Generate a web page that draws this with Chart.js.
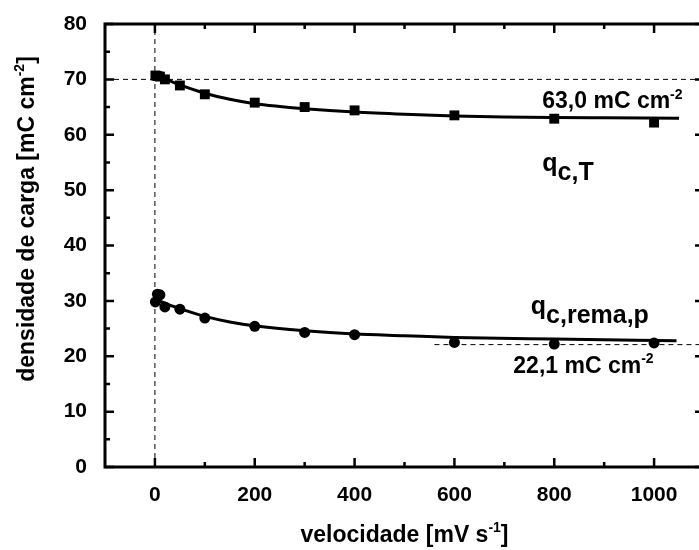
<!DOCTYPE html>
<html>
<head>
<meta charset="utf-8">
<script src="https://cdn.jsdelivr.net/npm/chart.js@4.4.0/dist/chart.umd.min.js"></script>
<style>
html, body { margin: 0; padding: 0; background: #fff; overflow: hidden; width: 699px; height: 550px; }
#wrap { position: relative; width: 712px; height: 550px; }
</style>
</head>
<body>
<div id="wrap"><canvas id="chartCarga"></canvas></div>
<script>
// dados
var velocidade = [1, 5, 10, 20, 50, 100, 200, 300, 400, 600, 800, 1000];
var qcT = [70.7, 70.6, 70.5, 70.0, 68.9, 67.3, 65.8, 65.0, 64.4, 63.5, 62.9, 62.2];
var qcRema = [29.8, 31.2, 31.1, 28.9, 28.5, 26.9, 25.4, 24.3, 23.9, 22.5, 22.2, 22.4];

// curvas de ajuste
var ajusteVelT = [0, 25, 50, 100, 150, 200, 250, 300, 400, 500, 600, 700, 800, 900, 1050];
var ajusteT = [70.6, 69.9, 69.0, 67.5, 66.4, 65.6, 65.1, 64.7, 64.1, 63.7, 63.4, 63.2, 63.1, 63.05, 63.0];
var ajusteVelRema = [0, 25, 50, 100, 150, 200, 300, 400, 500, 600, 800, 1045];
var ajusteRema = [30.4, 29.4, 28.6, 27.2, 26.2, 25.5, 24.6, 24.0, 23.7, 23.4, 23.1, 22.8];

// linhas tracejadas
var tracoVertX = [0, 0];
var tracoVertY = [0, 80];
var traco70X = [-100, 1100];
var traco70Y = [70, 70];
var traco22X = [560, 1100];
var traco22Y = [22.1, 22.1];

var xTicks = [0, 200, 400, 600, 800, 1000];
var xMinor = [100, 300, 500, 700, 900];
var yTicks = [0, 10, 20, 30, 40, 50, 60, 70, 80];
var yMinor = [5, 15, 25, 35, 45, 55, 65, 75];

var fonte = '"Liberation Sans", Arial, sans-serif';

function pares(xs, ys) {
    var out = [];
    for (let i = 0; i < xs.length; i++) {
        out.push({x: xs[i], y: ys[i]});
    }
    return out;
}

// moldura com ticks para dentro
var moldura = {
    id: 'moldura',
    afterDatasetsDraw: function (chart) {
        var ctx = chart.ctx, a = chart.chartArea;
        var xs = chart.scales.x, ys = chart.scales.y;
        ctx.save();
        ctx.strokeStyle = '#000';
        ctx.lineWidth = 2.5;
        function tickX(v, len) {
            var px = xs.getPixelForValue(v);
            ctx.beginPath();
            ctx.moveTo(px, a.bottom); ctx.lineTo(px, a.bottom - len);
            ctx.moveTo(px, a.top); ctx.lineTo(px, a.top + len);
            ctx.stroke();
        }
        function tickY(v, len) {
            var py = ys.getPixelForValue(v);
            ctx.beginPath();
            ctx.moveTo(a.left, py); ctx.lineTo(a.left + len, py);
            ctx.moveTo(a.right, py); ctx.lineTo(a.right - len, py);
            ctx.stroke();
        }
        xTicks.forEach(function (v) { tickX(v, 9); });
        xMinor.forEach(function (v) { tickX(v, 5); });
        yTicks.forEach(function (v) { tickY(v, 9); });
        yMinor.forEach(function (v) { tickY(v, 5); });
        ctx.lineWidth = 3;
        ctx.strokeRect(a.left, a.top, a.right - a.left, a.bottom - a.top);
        ctx.restore();
    }
};

function escreveSup(ctx, base, sup, x, y, size) {
    ctx.font = 'bold ' + size + 'px ' + fonte;
    ctx.fillText(base, x, y);
    var w = ctx.measureText(base).width;
    ctx.font = 'bold ' + Math.round(size * 0.62) + 'px ' + fonte;
    ctx.fillText(sup, x + w, y - size * 0.42);
    return w + ctx.measureText(sup).width;
}

var textos = {
    id: 'textos',
    afterDraw: function (chart) {
        var ctx = chart.ctx;
        var xs = chart.scales.x, ys = chart.scales.y;
        ctx.save();
        ctx.fillStyle = '#000';
        ctx.textAlign = 'left';
        ctx.textBaseline = 'alphabetic';

        // 63,0 mC cm-2
        escreveSup(ctx, '63,0 mC cm', '-2', xs.getPixelForValue(776), ys.getPixelForValue(64.8), 23);
        // 22,1 mC cm-2
        escreveSup(ctx, '22,1 mC cm', '-2', xs.getPixelForValue(718), ys.getPixelForValue(17.0), 23);

        // q c,T
        var x0 = xs.getPixelForValue(776), y0 = ys.getPixelForValue(51.8);
        ctx.font = 'bold 25px ' + fonte;
        ctx.fillText('q', x0, y0 - 9);
        ctx.fillText('c,T', x0 + ctx.measureText('q').width, y0);
        // q c,rema,p
        x0 = xs.getPixelForValue(753); y0 = ys.getPixelForValue(26.0);
        ctx.fillText('q', x0, y0 - 9);
        ctx.fillText('c,rema,p', x0 + ctx.measureText('q').width, y0);

        // titulo eixo x
        ctx.font = 'bold 23px ' + fonte;
        var a = chart.chartArea;
        var base = 'velocidade [mV s', sup = '-1', fim = ']';
        var wb = ctx.measureText(base).width;
        ctx.font = 'bold 14px ' + fonte;
        var ws = ctx.measureText(sup).width;
        ctx.font = 'bold 23px ' + fonte;
        var wf = ctx.measureText(fim).width;
        var cx = (a.left + a.right) / 2 - (wb + ws + wf) / 2;
        var w = escreveSup(ctx, base, sup, cx, 542, 23);
        ctx.font = 'bold 23px ' + fonte;
        ctx.fillText(fim, cx + w, 542);

        // titulo eixo y
        ctx.translate(34, 219);
        ctx.rotate(-Math.PI / 2);
        base = 'densidade de carga [mC cm'; sup = '-2';
        wb = ctx.measureText(base).width;
        var tot = wb + ws + wf;
        w = escreveSup(ctx, base, sup, -tot / 2, 0, 23);
        ctx.font = 'bold 23px ' + fonte;
        ctx.fillText(fim, -tot / 2 + w, 0);
        ctx.restore();
    }
};

var tracejado = {
    borderColor: '#000', borderWidth: 1, borderDash: [5, 4],
    showLine: true, pointRadius: 0, fill: false
};

new Chart(document.getElementById('chartCarga'), {
    type: 'scatter',
    data: {
        datasets: [
            Object.assign({data: pares(tracoVertX, tracoVertY), order: 5}, tracejado),
            Object.assign({data: pares(traco70X, traco70Y), order: 5}, tracejado),
            Object.assign({data: pares(traco22X, traco22Y), order: 5}, tracejado),
            {
                data: pares(ajusteVelT, ajusteT), showLine: true, borderColor: '#000',
                borderWidth: 3, pointRadius: 0, cubicInterpolationMode: 'monotone', order: 4
            },
            {
                data: pares(ajusteVelRema, ajusteRema), showLine: true, borderColor: '#000',
                borderWidth: 3, pointRadius: 0, cubicInterpolationMode: 'monotone', order: 4
            },
            {
                data: pares(velocidade, qcT), pointStyle: 'rect', pointRadius: 7,
                backgroundColor: '#000', borderColor: '#000', borderWidth: 0, order: 1
            },
            {
                data: pares(velocidade, qcRema), pointStyle: 'circle', pointRadius: 5.5,
                backgroundColor: '#000', borderColor: '#000', borderWidth: 0, order: 1
            }
        ]
    },
    options: {
        responsive: true,
        maintainAspectRatio: false,
        animation: false,
        layout: {padding: {top: 24, right: 8, left: 0, bottom: 0}},
        plugins: {legend: {display: false}, tooltip: {enabled: false}},
        scales: {
            x: {
                type: 'linear', min: -100, max: 1100,
                grid: {display: false}, border: {display: false},
                ticks: {
                    color: '#000', padding: 8, maxRotation: 0,
                    font: {family: fonte, size: 21, weight: 'bold'},
                    callback: function (v) { return String(v); }
                },
                afterBuildTicks: function (s) { s.ticks = xTicks.map(function (v) { return {value: v}; }); },
                afterFit: function (s) { s.height = 83; }
            },
            y: {
                min: 0, max: 80,
                grid: {display: false}, border: {display: false},
                ticks: {
                    color: '#000', padding: 10,
                    font: {family: fonte, size: 21, weight: 'bold'},
                    callback: function (v) { return String(v); }
                },
                afterBuildTicks: function (s) { s.ticks = yTicks.map(function (v) { return {value: v}; }); },
                afterFit: function (s) { s.width = 105; }
            }
        }
    },
    plugins: [moldura, textos]
});
</script>
</body>
</html>
